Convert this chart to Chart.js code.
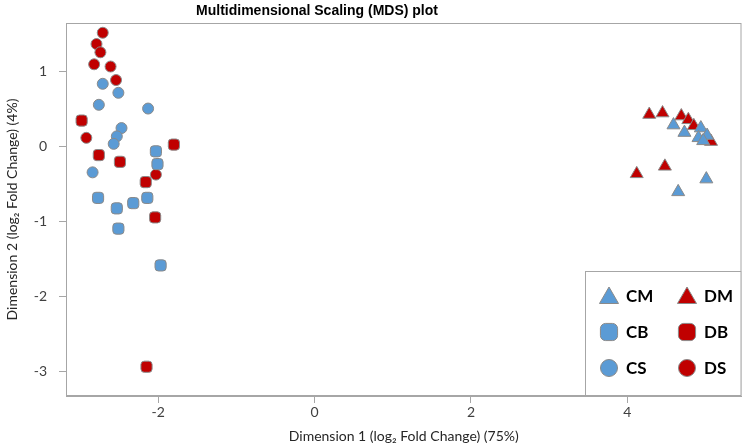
<!DOCTYPE html>
<html>
<head>
<meta charset="utf-8">
<script src="https://cdn.jsdelivr.net/npm/chart.js@4.4.0/dist/chart.umd.min.js"></script>
<style>
  html, body { margin: 0; padding: 0; background: #fff; }
</style>
</head>
<body>
<canvas id="mdsChart" width="750" height="448"></canvas>
<script>
// MDS coordinates (dimension 1, dimension 2)
const cmX = [4.59, 4.73, 4.94, 5.02, 4.91, 4.97, 5.01, 4.65];
const cmY = [0.29, 0.19, 0.25, 0.15, 0.12, 0.08, -0.43, -0.60];
const dmX = [4.28, 4.45, 4.69, 4.78, 4.85, 5.07, 4.12, 4.48];
const dmY = [0.43, 0.45, 0.41, 0.36, 0.28, 0.07, -0.36, -0.26];
const cbX = [-2.03, -2.01, -2.77, -2.53, -2.32, -2.14, -2.51, -1.97];
const cbY = [-0.06, -0.23, -0.68, -0.82, -0.75, -0.68, -1.09, -1.58];
const dbX = [-2.98, -2.76, -2.49, -1.80, -2.16, -2.04, -2.15];
const dbY = [0.35, -0.11, -0.20, 0.03, -0.47, -0.94, -2.93];
const csX = [-2.71, -2.51, -2.76, -2.13, -2.47, -2.53, -2.57, -2.84];
const csY = [0.84, 0.72, 0.56, 0.51, 0.25, 0.14, 0.04, -0.34];
const dsX = [-2.71, -2.79, -2.74, -2.82, -2.61, -2.54, -2.92, -2.03];
const dsY = [1.52, 1.37, 1.26, 1.10, 1.07, 0.89, 0.12, -0.37];

const xTicks = [-2, 0, 2, 4];
const yTicks = [-3, -2, -1, 0, 1];

const blue = '#5b9bd5';
const red = '#c00000';
const edge = '#8a8a8a';
const frame = '#a6a6a6';
const textFont = 'Lato, "Open Sans", sans-serif';

function toPoints(xs, ys) {
    return xs.map((x, i) => ({ x: x, y: ys[i] }));
}

function group(label, xs, ys, color, style, radius) {
    return {
        label: label,
        data: toPoints(xs, ys),
        pointStyle: style,
        pointRadius: radius,
        pointHoverRadius: radius,
        backgroundColor: color,
        borderColor: edge,
        borderWidth: 1
    };
}

// frame round the plot area, title, and the boxed legend in the corner
const framePlugin = {
    id: 'frame',
    beforeDatasetsDraw(chart) {
        const ctx = chart.ctx, a = chart.chartArea;
        ctx.save();
        ctx.strokeStyle = frame;
        ctx.lineWidth = 1;
        ctx.strokeRect(a.left + 0.5, a.top + 0.5, a.right - a.left - 1, a.bottom - a.top - 1);
        ctx.fillStyle = '#000';
        ctx.font = 'bold 14px "Liberation Sans Narrow", "Arial Narrow", sans-serif';
        ctx.textAlign = 'center';
        ctx.textBaseline = 'middle';
        ctx.fillText('Multidimensional Scaling (MDS) plot', 317, 11);
        ctx.restore();
    },
    afterDatasetsDraw(chart) {
        const ctx = chart.ctx, a = chart.chartArea;
        const left = 585, top = 271;
        ctx.save();
        ctx.fillStyle = '#fff';
        ctx.fillRect(left, top, a.right - left, a.bottom - top);
        ctx.strokeStyle = frame;
        ctx.lineWidth = 1;
        ctx.strokeRect(left + 0.5, top + 0.5, a.right - left - 1, a.bottom - top - 1);

        const sizes = { triangle: 11, rectRounded: 10, circle: 8.5 };
        chart.data.datasets.forEach((ds, i) => {
            const col = i % 2, row = Math.floor(i / 2);
            const mx = 609 + col * 78;
            const my = 296 + row * 36;
            ctx.fillStyle = ds.backgroundColor;
            ctx.strokeStyle = edge;
            ctx.lineWidth = 1;
            Chart.helpers.drawPoint(ctx, {
                pointStyle: ds.pointStyle,
                radius: sizes[ds.pointStyle],
                rotation: 0,
                borderWidth: 1
            }, mx, my + (ds.pointStyle === 'triangle' ? 2 : 0));
            ctx.fillStyle = '#000';
            ctx.font = 'bold 17px ' + textFont;
            ctx.textAlign = 'left';
            ctx.textBaseline = 'middle';
            ctx.fillText(ds.label, mx + 17, my + 1);
        });
        ctx.restore();
    }
};

const ctx = document.getElementById('mdsChart').getContext('2d');
const mdsChart = new Chart(ctx, {
    type: 'scatter',
    data: {
        datasets: [
            group('CM', cmX, cmY, blue, 'triangle', 7.5),
            group('DM', dmX, dmY, red, 'triangle', 7.5),
            group('CB', cbX, cbY, blue, 'rectRounded', 6.5),
            group('DB', dbX, dbY, red, 'rectRounded', 6.5),
            group('CS', csX, csY, blue, 'circle', 5.5),
            group('DS', dsX, dsY, red, 'circle', 5.5)
        ]
    },
    options: {
        responsive: false,
        animation: false,
        layout: { padding: { top: 23, right: 2, left: 0, bottom: 0 } },
        plugins: {
            legend: { display: false },
            tooltip: { enabled: false }
        },
        scales: {
            x: {
                type: 'linear',
                min: -3.18,
                max: 5.46,
                afterFit: s => { s.height = 52; },
                afterBuildTicks: s => { s.ticks = xTicks.map(v => ({ value: v })); },
                ticks: { color: '#404040', font: { family: textFont, size: 14 }, padding: 1 },
                grid: { drawOnChartArea: false, tickLength: 7, color: frame },
                border: { color: frame },
                title: {
                    display: true,
                    text: 'Dimension 1 (log₂ Fold Change) (75%)',
                    color: '#262626',
                    font: { family: textFont, size: 14 },
                    padding: { top: 0, bottom: 3 }
                }
            },
            y: {
                type: 'linear',
                min: -3.32,
                max: 1.65,
                afterFit: s => { s.width = 66; },
                afterBuildTicks: s => { s.ticks = yTicks.map(v => ({ value: v })); },
                ticks: { color: '#404040', font: { family: textFont, size: 14 }, padding: 12 },
                grid: { drawOnChartArea: false, tickLength: 7, color: frame },
                border: { color: frame },
                title: {
                    display: true,
                    text: 'Dimension 2 (log₂ Fold Change) (4%)',
                    color: '#262626',
                    font: { family: textFont, size: 14 },
                    padding: { top: 4, bottom: 0 }
                }
            }
        }
    },
    plugins: [framePlugin]
});
</script>
</body>
</html>
